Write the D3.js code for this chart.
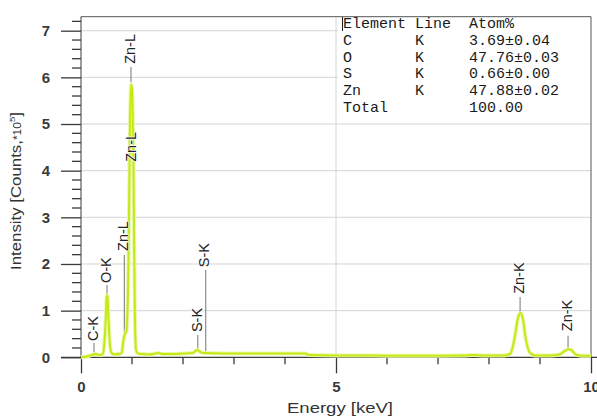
<!DOCTYPE html>
<html><head><meta charset="utf-8">
<script src="https://cdn.jsdelivr.net/npm/d3@7"></script>
<style>
html,body{margin:0;padding:0;background:#fff;}
svg{display:block;}
</style></head>
<body>
<svg id="chart" width="597" height="416"></svg>
<script>
// ---- data ----
const energyKeV = [0.00,0.08,0.15,0.22,0.27,0.32,0.38,0.43,0.46,0.49,0.505,0.52,0.54,0.57,0.60,0.66,0.72,0.78,0.80,0.83,0.86,0.89,0.93,0.96,0.98,1.00,1.03,1.055,1.08,1.12,1.20,1.35,1.45,1.52,1.60,1.80,2.00,2.18,2.24,2.28,2.33,2.40,2.80,3.20,3.60,4.00,4.40,4.47,5.00,5.50,6.00,6.50,7.00,7.50,7.70,7.90,8.30,8.42,8.50,8.57,8.62,8.66,8.72,8.80,8.90,9.20,9.38,9.48,9.56,9.62,9.70,9.80,10.0];
const intensity = [0.00,0.01,0.03,0.05,0.07,0.06,0.05,0.08,0.35,0.95,1.33,1.30,0.80,0.25,0.09,0.06,0.07,0.08,0.10,0.35,0.50,0.55,2.00,5.00,5.85,5.75,4.00,1.00,0.15,0.08,0.07,0.06,0.08,0.09,0.07,0.07,0.08,0.09,0.13,0.16,0.12,0.09,0.08,0.08,0.08,0.08,0.08,0.05,0.04,0.04,0.035,0.035,0.035,0.04,0.05,0.04,0.04,0.08,0.40,0.85,0.95,0.85,0.40,0.10,0.04,0.04,0.06,0.13,0.17,0.15,0.06,0.035,0.035];

const yTicks = [0,1,2,3,4,5,6,7];
const xTicks = [0,5,10];

// peak markers: label, energy, line from/to (intensity), label anchor (intensity), label side
const markerLabels = ["C-K","O-K","Zn-L","Zn-L","Zn-L","S-K","S-K","Zn-K","Zn-K"];
const markerEnergy = [0.255,0.51,0.85,0.98,1.00,2.29,2.445,8.61,9.55];
const markerLineFrom = [0.09,1.34,0.52,5.90,4.91,0.20,0.09,0.97,0.20];
const markerLineTo = [0.31,1.55,2.19,6.22,5.23,0.48,1.87,1.29,0.46];
const markerTextAt = [0.35,1.59,2.28,6.29,4.83,0.54,1.93,1.36,0.56];
const markerTextBelow = [false,false,false,false,true,false,false,false,false];

// results table
const tableHeader = ["Element","Line","Atom%"];
const tableElements = ["C","O","S","Zn","Total"];
const tableLines = ["K","K","K","K",""];
const tableAtomPct = ["3.69\u00b10.04","47.76\u00b10.03","0.66\u00b10.00","47.88\u00b10.02","100.00"];

// ---- chart ----
(function(){
const W = 597, H = 416;
const pL = 81, pR = 591, pT = 16.7, pB = 357.3;
const svg = d3.select("#chart");
const x = d3.scaleLinear().domain([0,10]).range([pL,pR]);
const y = d3.scaleLinear().domain([0,7.3]).range([pB,pT]);
const axisColor = "#3a3a3a";
const sans = "'Liberation Sans', Arial, sans-serif";

// gridlines
const grid = svg.append("g");
grid.selectAll("line.h").data(yTicks.filter(d=>d>0)).join("line")
  .attr("x1",pL).attr("x2",pR)
  .attr("y1",d=>y(d)).attr("y2",d=>y(d))
  .attr("stroke","#d4d4d4").attr("stroke-width",1);
grid.append("line").attr("x1",x(5)).attr("x2",x(5)).attr("y1",pT).attr("y2",pB)
  .attr("stroke","#d4d4d4").attr("stroke-width",1);

// table background (covers grid)
const tbl = svg.append("g");
tbl.append("rect").attr("x",338).attr("y",pT+0.5).attr("width",pR-338).attr("height",101)
  .attr("fill","#fff");

// frame: top & right
svg.append("line").attr("x1",pL).attr("x2",pR).attr("y1",pT).attr("y2",pT)
  .attr("stroke","#555").attr("stroke-width",1);
svg.append("line").attr("x1",pR).attr("x2",pR).attr("y1",pT).attr("y2",pB)
  .attr("stroke","#555").attr("stroke-width",1);

// y axis
const yMinor = d3.range(0,7.21,0.2).filter(v=>Math.abs(v-Math.round(v))>1e-6);
const yAxis = d3.axisLeft(y).tickValues(yTicks).tickSize(20).tickPadding(11).tickFormat(d3.format("d"));
const gy = svg.append("g").attr("transform",`translate(${pL},0)`).call(yAxis);
gy.select(".domain").attr("stroke",axisColor).attr("d",`M0,${pT}V${pB}`);
gy.selectAll(".tick line").attr("stroke",axisColor).attr("stroke-width",1.3);
gy.selectAll(".tick text").attr("font-family",sans).attr("font-size",15).attr("font-weight","bold").attr("fill","#3a3a3a");
gy.append("g").selectAll("line").data(yMinor).join("line")
  .attr("x1",-9).attr("x2",0).attr("y1",d=>y(d)).attr("y2",d=>y(d))
  .attr("stroke",axisColor).attr("stroke-width",1.3);

// x axis
const xMinor = [1,2,3,4,6,7,8,9];
const xAxis = d3.axisBottom(x).tickValues(xTicks).tickSize(16).tickPadding(8).tickFormat(d3.format("d"));
const gx = svg.append("g").attr("transform",`translate(0,${pB})`).call(xAxis);
gx.select(".domain").attr("stroke",axisColor).attr("stroke-width",1.3).attr("d",`M${pL-20},0H${W}`);
gx.selectAll(".tick line").attr("stroke",axisColor).attr("stroke-width",1.3);
gx.selectAll(".tick text").attr("font-family",sans).attr("font-size",15).attr("font-weight","bold").attr("fill","#3a3a3a");
gx.append("g").selectAll("line").data(xMinor).join("line")
  .attr("x1",d=>x(d)).attr("x2",d=>x(d)).attr("y1",0).attr("y2",7)
  .attr("stroke",axisColor).attr("stroke-width",1.3);

// axis titles
svg.append("text").attr("x",340).attr("y",412.5).attr("text-anchor","middle")
  .attr("font-family",sans).attr("font-size",15).attr("fill","#333")
  .attr("textLength",106).attr("lengthAdjust","spacingAndGlyphs")
  .text("Energy [keV]");
const yl = svg.append("text").attr("transform","translate(21,191) rotate(-90)")
  .attr("text-anchor","middle").attr("font-family",sans).attr("font-size",14).attr("fill","#333")
  .attr("textLength",158).attr("lengthAdjust","spacingAndGlyphs");
yl.append("tspan").text("Intensity [Counts,");
yl.append("tspan").attr("font-size",10).text("*10");
yl.append("tspan").attr("font-size",8).attr("dy",-6).text("5");
yl.append("tspan").attr("dy",6).text("]");

// marker lines
const markers = markerLabels.map((t,i)=>({t,e:markerEnergy[i],a:markerLineFrom[i],b:markerLineTo[i],ta:markerTextAt[i],below:markerTextBelow[i]}));
const mg = svg.append("g");
mg.selectAll("line").data(markers).join("line")
  .attr("x1",d=>x(d.e)).attr("x2",d=>x(d.e))
  .attr("y1",d=>y(d.a)).attr("y2",d=>y(d.b))
  .attr("stroke","#8c8c8c").attr("stroke-width",1.2);

// spectrum
const pts = energyKeV.map((e,i)=>[e,intensity[i]]);
const line = d3.line().x(d=>x(d[0])).y(d=>y(d[1])).curve(d3.curveMonotoneX);
svg.append("path").datum(pts).attr("d",line).attr("fill","none")
  .attr("stroke","#eaf8ad").attr("stroke-width",4).attr("stroke-linejoin","round");
svg.append("path").datum(pts).attr("d",line).attr("fill","none")
  .attr("stroke","#c3ea14").attr("stroke-width",2).attr("stroke-linejoin","round");

// marker labels on top
svg.append("g").selectAll("text").data(markers).join("text")
  .attr("transform",d=>`translate(${x(d.e)},${y(d.ta)}) rotate(-90)`)
  .attr("text-anchor",d=>d.below?"end":"start")
  .attr("dy","0.26em")
  .attr("font-family",sans).attr("font-size",14.5).attr("fill","#222")
  .attr("stroke","#fff").attr("stroke-width",1.5).attr("paint-order","stroke")
  .text(d=>d.t);

// table text
const mono = "'Liberation Mono', 'DejaVu Sans Mono', monospace";
const colX = [343, 415, 469];
const rowY0 = 28.3, rowH = 16.7;
const tg = tbl.append("g").attr("font-family",mono).attr("font-size",15).attr("fill","#1a1a1a");
tg.selectAll("text.h").data(tableHeader).join("text").attr("class","h")
  .attr("x",(d,i)=>colX[i]).attr("y",rowY0).text(d=>d);
const rows = tableElements.map((el,i)=>[el,tableLines[i],tableAtomPct[i]]);
rows.forEach((r,ri)=>{
  tg.append("g").selectAll("text").data(r).join("text")
    .attr("x",(d,i)=>colX[i]).attr("y",rowY0+rowH*(ri+1)).text(d=>d);
});
tbl.append("line").attr("x1",342.5).attr("x2",342.5).attr("y1",17).attr("y2",31)
  .attr("stroke","#222").attr("stroke-width",1);
})();
</script>
</body></html>
